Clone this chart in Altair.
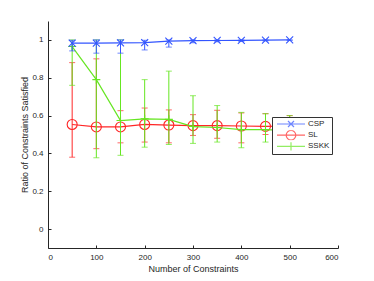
import altair as alt
import pandas as pd

x_vals = [50, 100, 150, 200, 250, 300, 350, 400, 450, 500]
series_names = ["CSP", "SL", "SSKK"]
colors = ["#3355ff", "#ff2626", "#66e622"]

csp_mean = [0.983, 0.983, 0.984, 0.986, 0.994, 0.996, 0.997, 0.998, 0.999, 1.0]
csp_lo = [0.942, 0.93, 0.93, 0.947, 0.962, 0.985, 0.99, 0.992, 0.995, 0.998]
csp_hi = [0.998, 1.0, 1.0, 0.998, 1.0, 1.0, 1.0, 1.0, 1.0, 1.0]

sl_mean = [0.553, 0.54, 0.54, 0.553, 0.55, 0.547, 0.547, 0.545, 0.543, 0.545]
sl_lo = [0.38, 0.425, 0.456, 0.46, 0.456, 0.495, 0.48, 0.456, 0.5, 0.49]
sl_hi = [0.88, 0.90, 0.626, 0.64, 0.63, 0.605, 0.628, 0.614, 0.61, 0.6]

sskk_mean = [0.965, 0.79, 0.574, 0.583, 0.58, 0.542, 0.537, 0.526, 0.526, 0.52]
sskk_lo = [0.76, 0.377, 0.39, 0.433, 0.447, 0.453, 0.46, 0.43, 0.46, 0.45]
sskk_hi = [1.0, 1.0, 1.0, 0.79, 0.835, 0.705, 0.653, 0.617, 0.61, 0.6]

x_ticks = [0, 100, 200, 300, 400, 500, 600]
y_ticks = [0, 0.2, 0.4, 0.6, 0.8, 1.0]

W, H = 290, 227

xs = alt.Scale(domain=[0, 600], nice=False)
ys = alt.Scale(domain=[-0.1, 1.1], nice=False, zero=False)

FONT = "Liberation Sans"
AX = "#262626"

x_axis = alt.Axis(values=x_ticks, title="Number of Constraints", tickSize=0,
                  labelPadding=5, titleY=20, titleBaseline="middle",
                  grid=False, domainColor=AX, labelColor=AX, titleColor=AX,
                  labelFontSize=8, titleFontSize=9, titleFontWeight="normal",
                  labelFont=FONT, titleFont=FONT, orient="bottom")
y_axis = alt.Axis(values=y_ticks, title="Ratio of Constraints Satisfied", tickSize=0,
                  format=".1~f", labelPadding=5, titleX=-24, titleY=H / 2,
                  titleAngle=270, titleAlign="center", titleBaseline="middle",
                  grid=False, domainColor=AX, labelColor=AX, titleColor=AX,
                  labelFontSize=8, titleFontSize=9, titleFontWeight="normal",
                  labelFont=FONT, titleFont=FONT, orient="left")

X_PATH = "M-1,-1L1,1M-1,1L1,-1"
PLUS_PATH = "M-1,0L1,0M0,-1L0,1"


def frame(mean, lo, hi):
    return pd.DataFrame({"x": x_vals, "y": mean, "lo": lo, "hi": hi})


def series_layers(df, color, shape, size):
    base = alt.Chart(df)
    xe = alt.X("x:Q", scale=xs, axis=x_axis)
    bars = base.mark_rule(color=color, strokeWidth=1).encode(
        x=xe, y=alt.Y("lo:Q", scale=ys, axis=y_axis), y2="hi:Q")
    cap_lo = base.mark_tick(color=color, orient="horizontal", size=6, thickness=1).encode(
        x=xe, y=alt.Y("lo:Q", scale=ys, axis=y_axis))
    cap_hi = base.mark_tick(color=color, orient="horizontal", size=6, thickness=1).encode(
        x=xe, y=alt.Y("hi:Q", scale=ys, axis=y_axis))
    line = base.mark_line(color=color, strokeWidth=1.2).encode(
        x=xe, y=alt.Y("y:Q", scale=ys, axis=y_axis))
    pts = base.mark_point(color=color, shape=shape, size=size, filled=False,
                          strokeWidth=1.1, opacity=1).encode(
        x=xe, y=alt.Y("y:Q", scale=ys, axis=y_axis))
    return [bars, cap_lo, cap_hi, line, pts]


csp_df = frame(csp_mean, csp_lo, csp_hi)
sl_df = frame(sl_mean, sl_lo, sl_hi)
sskk_df = frame(sskk_mean, sskk_lo, sskk_hi)

layers = []
layers += series_layers(sl_df, colors[1], "circle", 100)
layers += series_layers(sskk_df, colors[2], PLUS_PATH, 64)
layers += series_layers(csp_df, colors[0], X_PATH, 49)

legend_paths = [
    "M-4.67,0L4.67,0M-1,-1L1,1M-1,1L1,-1",
    "M-4.67,0L4.67,0M1.6,0A1.6,1.6,0,1,1,-1.6,0A1.6,1.6,0,1,1,1.6,0",
    "M-4.67,0L4.67,0M0,-1.4L0,1.4",
]
leg = alt.Legend(title=None, orient="none", legendX=224, legendY=96,
                 strokeColor="#333333", fillColor="white", padding=2,
                 symbolOffset=13, labelOffset=13, symbolSize=36,
                 symbolStrokeWidth=1.2, labelFontSize=8, labelFont=FONT,
                 labelColor=AX, rowPadding=1.2, clipHeight=10, cornerRadius=0)
legend_layer = alt.Chart(pd.DataFrame({"series": series_names})).transform_filter(
    "false").mark_point(filled=False).encode(
    color=alt.Color("series:N", scale=alt.Scale(domain=series_names, range=colors),
                    legend=leg, sort=series_names),
    shape=alt.Shape("series:N", scale=alt.Scale(domain=series_names, range=legend_paths),
                    legend=leg, sort=series_names),
)
layers.append(legend_layer)

main = alt.layer(*layers)

tick_layer = alt.Chart(csp_df).mark_point(opacity=0).encode(
    x=alt.X("x:Q", scale=xs, axis=alt.Axis(orient="top", offset=-H, labels=False,
                                           domain=False, tickSize=3, values=x_ticks,
                                           title=None, grid=False, tickColor=AX)),
    y=alt.Y("y:Q", scale=ys, axis=alt.Axis(orient="right", offset=-W, labels=False,
                                           domain=False, tickSize=3, values=y_ticks,
                                           title=None, grid=False, tickColor=AX)),
)

chart = alt.layer(main, tick_layer).resolve_axis(
    x="independent", y="independent"
).properties(
    width=W, height=H,
    autosize=alt.AutoSizeParams(type="none"),
    padding={"left": 40, "top": 13, "right": 28, "bottom": 25},
).configure_view(stroke=None)

chart.save("out.html", embed_options={"renderer": "svg", "actions": False})
